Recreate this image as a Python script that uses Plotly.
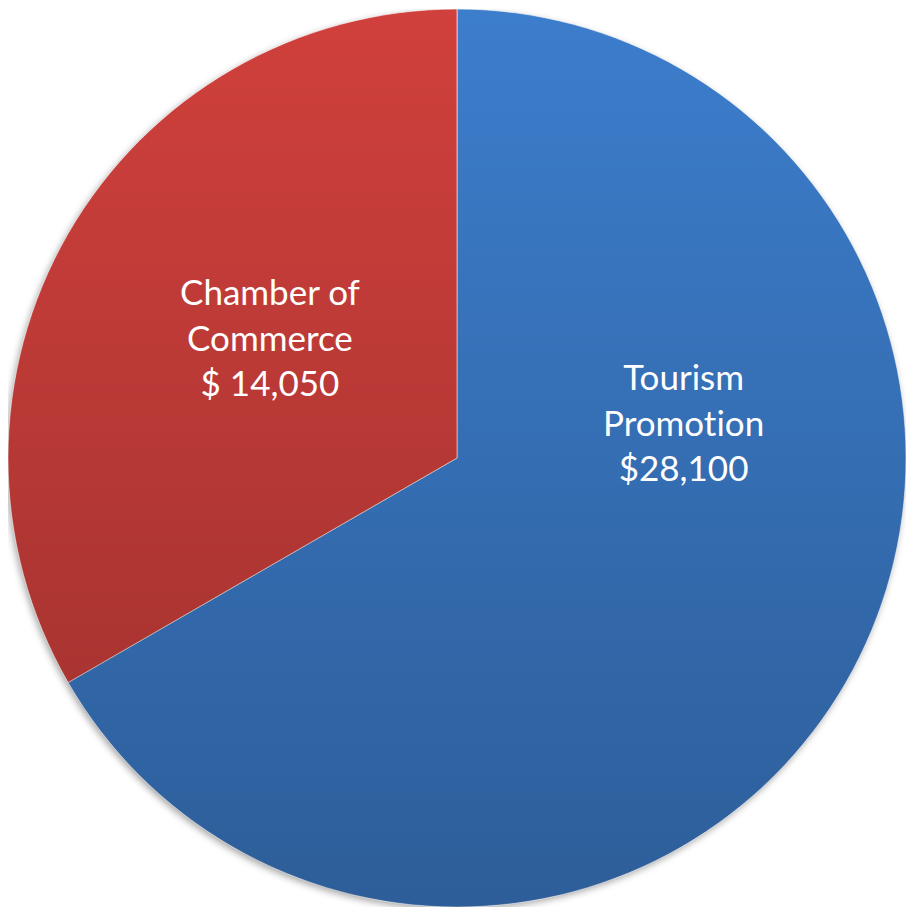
import base64
import plotly.graph_objects as go

# Budget split
categories = ["Tourism\nPromotion", "Chamber of\nCommerce"]
values = [28100, 14050]
value_labels = ["$28,100", "$ 14,050"]
slice_colors = ["#3C7DCC", "#D0403C"]

W, H = 906, 912
cx, cy, r = 457, 458, 449  # pie centre and radius in pixels

dom_x = [(cx - r) / W, (cx + r) / W]
dom_y = [1 - (cy + r) / H, 1 - (cy - r) / H]


def svg_uri(svg):
    return "data:image/svg+xml;base64," + base64.b64encode(svg.encode()).decode()


def no_ti_ligature(s):
    # keep "t" and "i" as separate glyphs in Lato
    return s.replace("ti", "t\u200ci")


# vertical shading laid over the disc (top light, bottom darker)
shade_svg = (
    '<svg xmlns="http://www.w3.org/2000/svg" width="1000" height="1000" viewBox="0 0 1000 1000">'
    '<defs><linearGradient id="g" x1="0" y1="0" x2="0" y2="1">'
    '<stop offset="0" stop-color="#000" stop-opacity="0"/>'
    '<stop offset="1" stop-color="#000" stop-opacity="0.25"/>'
    '</linearGradient></defs>'
    '<circle cx="500" cy="500" r="500" fill="url(#g)"/></svg>'
)

# soft drop shadow under the disc
shadow_svg = (
    '<svg xmlns="http://www.w3.org/2000/svg" width="1000" height="1000" viewBox="0 0 1000 1000">'
    '<defs><filter id="b" x="-10%" y="-10%" width="120%" height="120%">'
    '<feGaussianBlur stdDeviation="4"/></filter></defs>'
    '<circle cx="498" cy="503" r="500" fill="#000" fill-opacity="0.35" filter="url(#b)"/></svg>'
)

fig = go.Figure(
    go.Pie(
        labels=[c.replace("\n", " ") for c in categories],
        values=values,
        sort=False,
        direction="clockwise",
        rotation=0,
        marker=dict(colors=slice_colors, line=dict(color="rgba(255,255,255,0.6)", width=1)),
        textinfo="none",
        hoverinfo="label+value",
        showlegend=False,
        domain=dict(x=dom_x, y=dom_y),
    )
)

# label placement (paper fractions) for each slice
label_pos = [(683 / W, 1 - 421 / H), (270 / W, 1 - 336 / H)]
for cat, vl, (ax, ay) in zip(categories, value_labels, label_pos):
    fig.add_annotation(
        x=ax, y=ay, xref="paper", yref="paper",
        text="<br>".join([no_ti_ligature(p) for p in cat.split("\n")] + [vl]),
        showarrow=False,
        font=dict(family="Lato, 'Open Sans', sans-serif", size=35, color="white"),
        align="center", xanchor="center", yanchor="middle",
    )

fig.add_layout_image(
    source=svg_uri(shadow_svg), xref="paper", yref="paper",
    x=dom_x[0], y=dom_y[1], sizex=dom_x[1] - dom_x[0], sizey=dom_y[1] - dom_y[0],
    xanchor="left", yanchor="top", sizing="stretch", layer="below",
)
fig.add_layout_image(
    source=svg_uri(shade_svg), xref="paper", yref="paper",
    x=dom_x[0], y=dom_y[1], sizex=dom_x[1] - dom_x[0], sizey=dom_y[1] - dom_y[0],
    xanchor="left", yanchor="top", sizing="stretch", layer="above",
)

fig.update_layout(
    width=W, height=H,
    margin=dict(l=0, r=0, t=0, b=0),
    paper_bgcolor="white", plot_bgcolor="white",
)

fig.write_html("out.html")
